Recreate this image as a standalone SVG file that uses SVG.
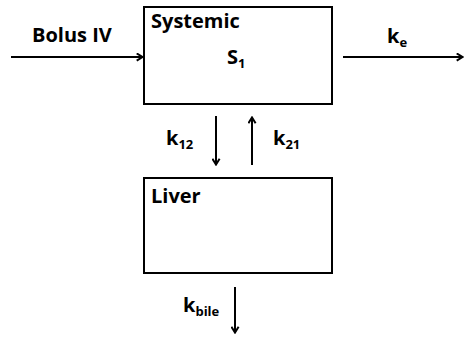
<svg xmlns="http://www.w3.org/2000/svg" width="464" height="338" viewBox="0 0 464 338">
<style>
.box{fill:#fff;stroke:#000;stroke-width:2}
.t{font-family:"Open Sans","Liberation Sans",sans-serif;font-weight:bold;font-size:20px;fill:#000}
.s{font-size:13px}
.c{stroke:#000;stroke-width:2;fill:none}
</style>
<defs>
<marker id="a" viewBox="0 0 10 10" refX="9" refY="5" markerWidth="9" markerHeight="9" markerUnits="userSpaceOnUse" orient="auto">
<path d="M2,1 L8.5,5 L2,9" fill="none" stroke="#000" stroke-width="2.2"/>
</marker>
</defs>
<g id="systemic">
<rect class="box" x="144" y="7" width="188" height="97"/>
<text class="t" x="151" y="28">Systemic</text>
<text class="t" x="227" y="64">S<tspan class="s" dy="4">1</tspan></text>
</g>
<g id="liver">
<rect class="box" x="144" y="178" width="188" height="95"/>
<text class="t" x="151" y="203">Liver</text>
</g>
<g id="connectors">
<line class="c" x1="11" y1="57" x2="143" y2="57" marker-end="url(#a)"/>
<line class="c" x1="343" y1="57" x2="463" y2="57" marker-end="url(#a)"/>
<line class="c" x1="216" y1="116" x2="216" y2="165" marker-end="url(#a)"/>
<line class="c" x1="252" y1="165" x2="252" y2="117" marker-end="url(#a)"/>
<line class="c" x1="235" y1="287" x2="235" y2="333" marker-end="url(#a)"/>
</g>
<g id="labels">
<text class="t" x="32" y="42">Bolus IV</text>
<text class="t" x="387" y="43">k<tspan class="s" dy="4">e</tspan></text>
<text class="t" x="166" y="145">k<tspan class="s" dy="4">12</tspan></text>
<text class="t" x="273" y="145">k<tspan class="s" dy="4">21</tspan></text>
<text class="t" x="183" y="312">k<tspan class="s" dy="4">bile</tspan></text>
</g>
</svg>
